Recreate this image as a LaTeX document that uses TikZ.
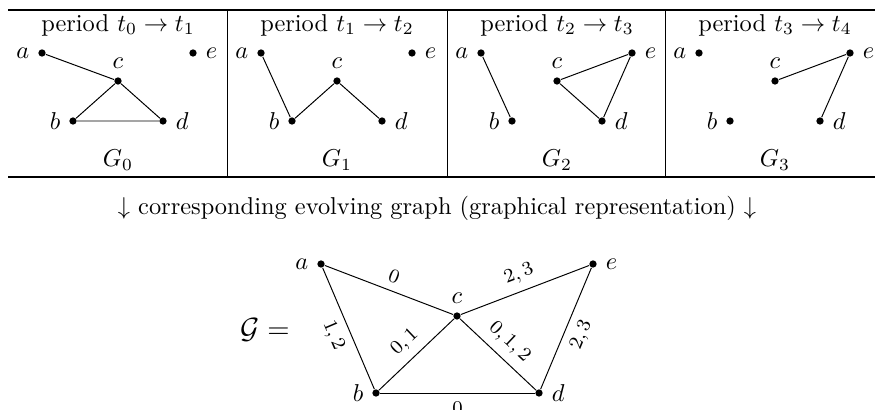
\documentclass[tikz,border=0pt]{standalone}
\tikzset{vtx/.style={circle,fill,inner sep=0pt,minimum size=3pt},
  elab/.style={font=\footnotesize,sloped}}
\begin{document}
\begin{tikzpicture}[x=0.41pt,y=-0.41pt]
\useasboundingbox (0,0) rectangle (875,410);
\draw[line width=0.8pt] (8,10)--(875,10); \draw[line width=0.8pt] (8,177)--(875,177);
\foreach \x in {227,447,665} \draw (\x,10)--(\x,177);
\foreach \x/\i/\j in {8/0/1,227/1/2,447/2/3,665/3/4} {
  \node (p\i) at (\x+110,25) {period $t_{\i}\to t_{\j}$};
  \node (g\i) at (\x+110,160) {$G_{\i}$};
  \node[vtx,label=left:$a$] (a\i) at (\x+34,53) {};
  \node[vtx,label=left:$b$] (b\i) at (\x+65,121) {};
  \node[vtx,label=above:$c$] (c\i) at (\x+110,81) {};
  \node[vtx,label=right:$d$] (d\i) at (\x+155,121) {};
  \node[vtx,label=right:$e$] (e\i) at (\x+185,53) {};
}
\draw (a0)--(c0) (c0)--(b0) (b0)--(d0) (d0)--(c0);
\draw (a1)--(b1) (b1)--(c1) (c1)--(d1);
\draw (a2)--(b2) (c2)--(e2) (e2)--(d2) (d2)--(c2);
\draw (c3)--(e3) (e3)--(d3);
\node (txt) at (437,208) {$\downarrow$ corresponding evolving graph (graphical representation) $\downarrow$};
\node[font=\large] (eq) at (265,330) {$\mathcal{G} =$};
\node[vtx,label=left:$a$] (a) at (321,264) {};
\node[vtx,label=left:$b$] (b) at (376,393) {};
\node[vtx,label=above:$c$] (c) at (457,316) {};
\node[vtx,label=right:$d$] (d) at (539,393) {};
\node[vtx,label=right:$e$] (e) at (593,264) {};
\draw (a)--(c) node[elab,midway,above] {$0$};
\draw (c)--(e) node[elab,midway,above] {$2,3$};
\draw (a)--(b) node[elab,midway,below] {$1,2$};
\draw (b)--(c) node[elab,midway,above] {$0,1$};
\draw (c)--(d) node[elab,midway,above] {$0,1,2$};
\draw (d)--(e) node[elab,midway,below] {$2,3$};
\draw (b)--(d) node[font=\footnotesize,midway,below] {$0$};
\end{tikzpicture}
\end{document}
